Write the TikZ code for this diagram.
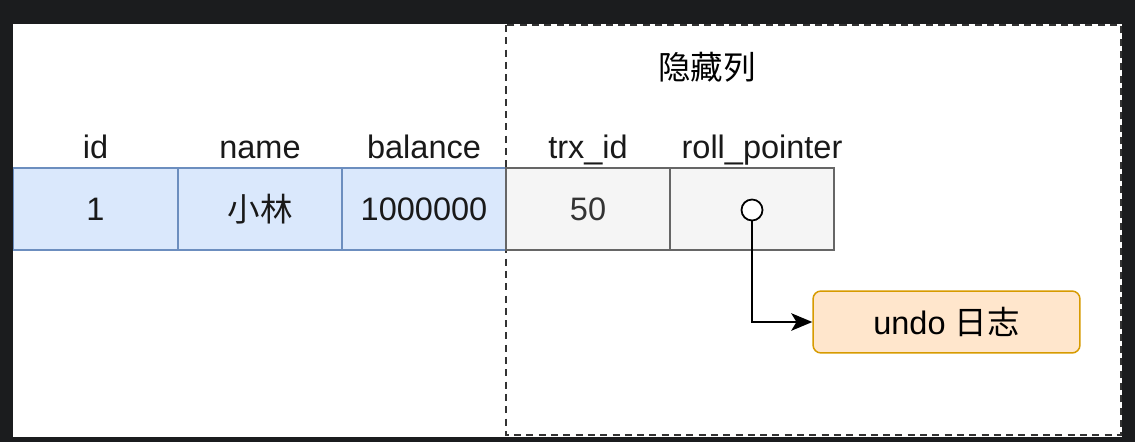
\documentclass[tikz,border=0pt]{standalone}
\usepackage{fontspec}
\setmainfont{Liberation Sans}
\newfontfamily\cjk{Noto Sans CJK SC}
\usetikzlibrary{arrows.meta}
\definecolor{pagedark}{HTML}{1B1C1E}
\definecolor{cellblue}{HTML}{DAE8FC}
\definecolor{lineblue}{HTML}{6C8EBF}
\definecolor{cellgrey}{HTML}{F5F5F5}
\definecolor{linegrey}{HTML}{666666}
\definecolor{undofill}{HTML}{FFE6CC}
\definecolor{undoline}{HTML}{D79B00}

\begin{document}
\begin{tikzpicture}[x=0.02cm,y=-0.02cm,
    font=\fontsize{18.5}{22}\selectfont,
    headlabel/.style={anchor=base,text=black!90},
    bluecell/.style={draw=lineblue,fill=cellblue,line width=0.85pt,minimum width=3.28cm,minimum height=1.64cm,inner sep=0pt,text=black!90},
    greycell/.style={draw=linegrey,fill=cellgrey,line width=0.85pt,minimum width=3.28cm,minimum height=1.64cm,inner sep=0pt,text=black!80}]
        % page and hidden-column frame
        \fill[pagedark] (0,0) rectangle (1135,442);
        \fill[white] (13,24) rectangle (1122,437);
        \useasboundingbox (0,0) rectangle (1135,442);
        \draw[black!80,line width=0.85pt,dash pattern=on 4pt off 3pt] (506,25) rectangle (1121,435);
        \node (hidden) at (707,67) {\cjk 隐藏列};
        % column names
        \node[headlabel] (hid) at (95.5,159) {id};
        \node[headlabel] (hname) at (260,159) {name};
        \node[headlabel] (hbal) at (424,159) {balance};
        \node[headlabel] (htrx) at (588,159) {trx\_id};
        \node[headlabel] (hroll) at (762,159) {roll\_pointer};
        % the row
        \node[bluecell] (cid) at (95.5,209) {1};
        \node[bluecell] (cname) at (260,209) {\cjk 小林};
        \node[bluecell] (cbal) at (424,209) {1000000};
        \node[greycell] (ctrx) at (588,209) {50};
        \node[greycell] (croll) at (752,209) {};
        \node[circle,draw,fill=white,line width=1pt,minimum size=0.42cm,inner sep=0pt] (ptr) at (752,210) {};
        % undo log
        \node[draw=undoline,fill=undofill,line width=0.85pt,rounded corners=0.16cm,minimum width=5.34cm,minimum height=1.24cm] (undo) at (946.5,322) {undo {\cjk 日志}};
        \draw[-{Stealth[length=12pt,width=10pt,inset=3pt]},line width=0.85pt] (ptr) |- (undo.west);
    \end{tikzpicture}
\end{document}
